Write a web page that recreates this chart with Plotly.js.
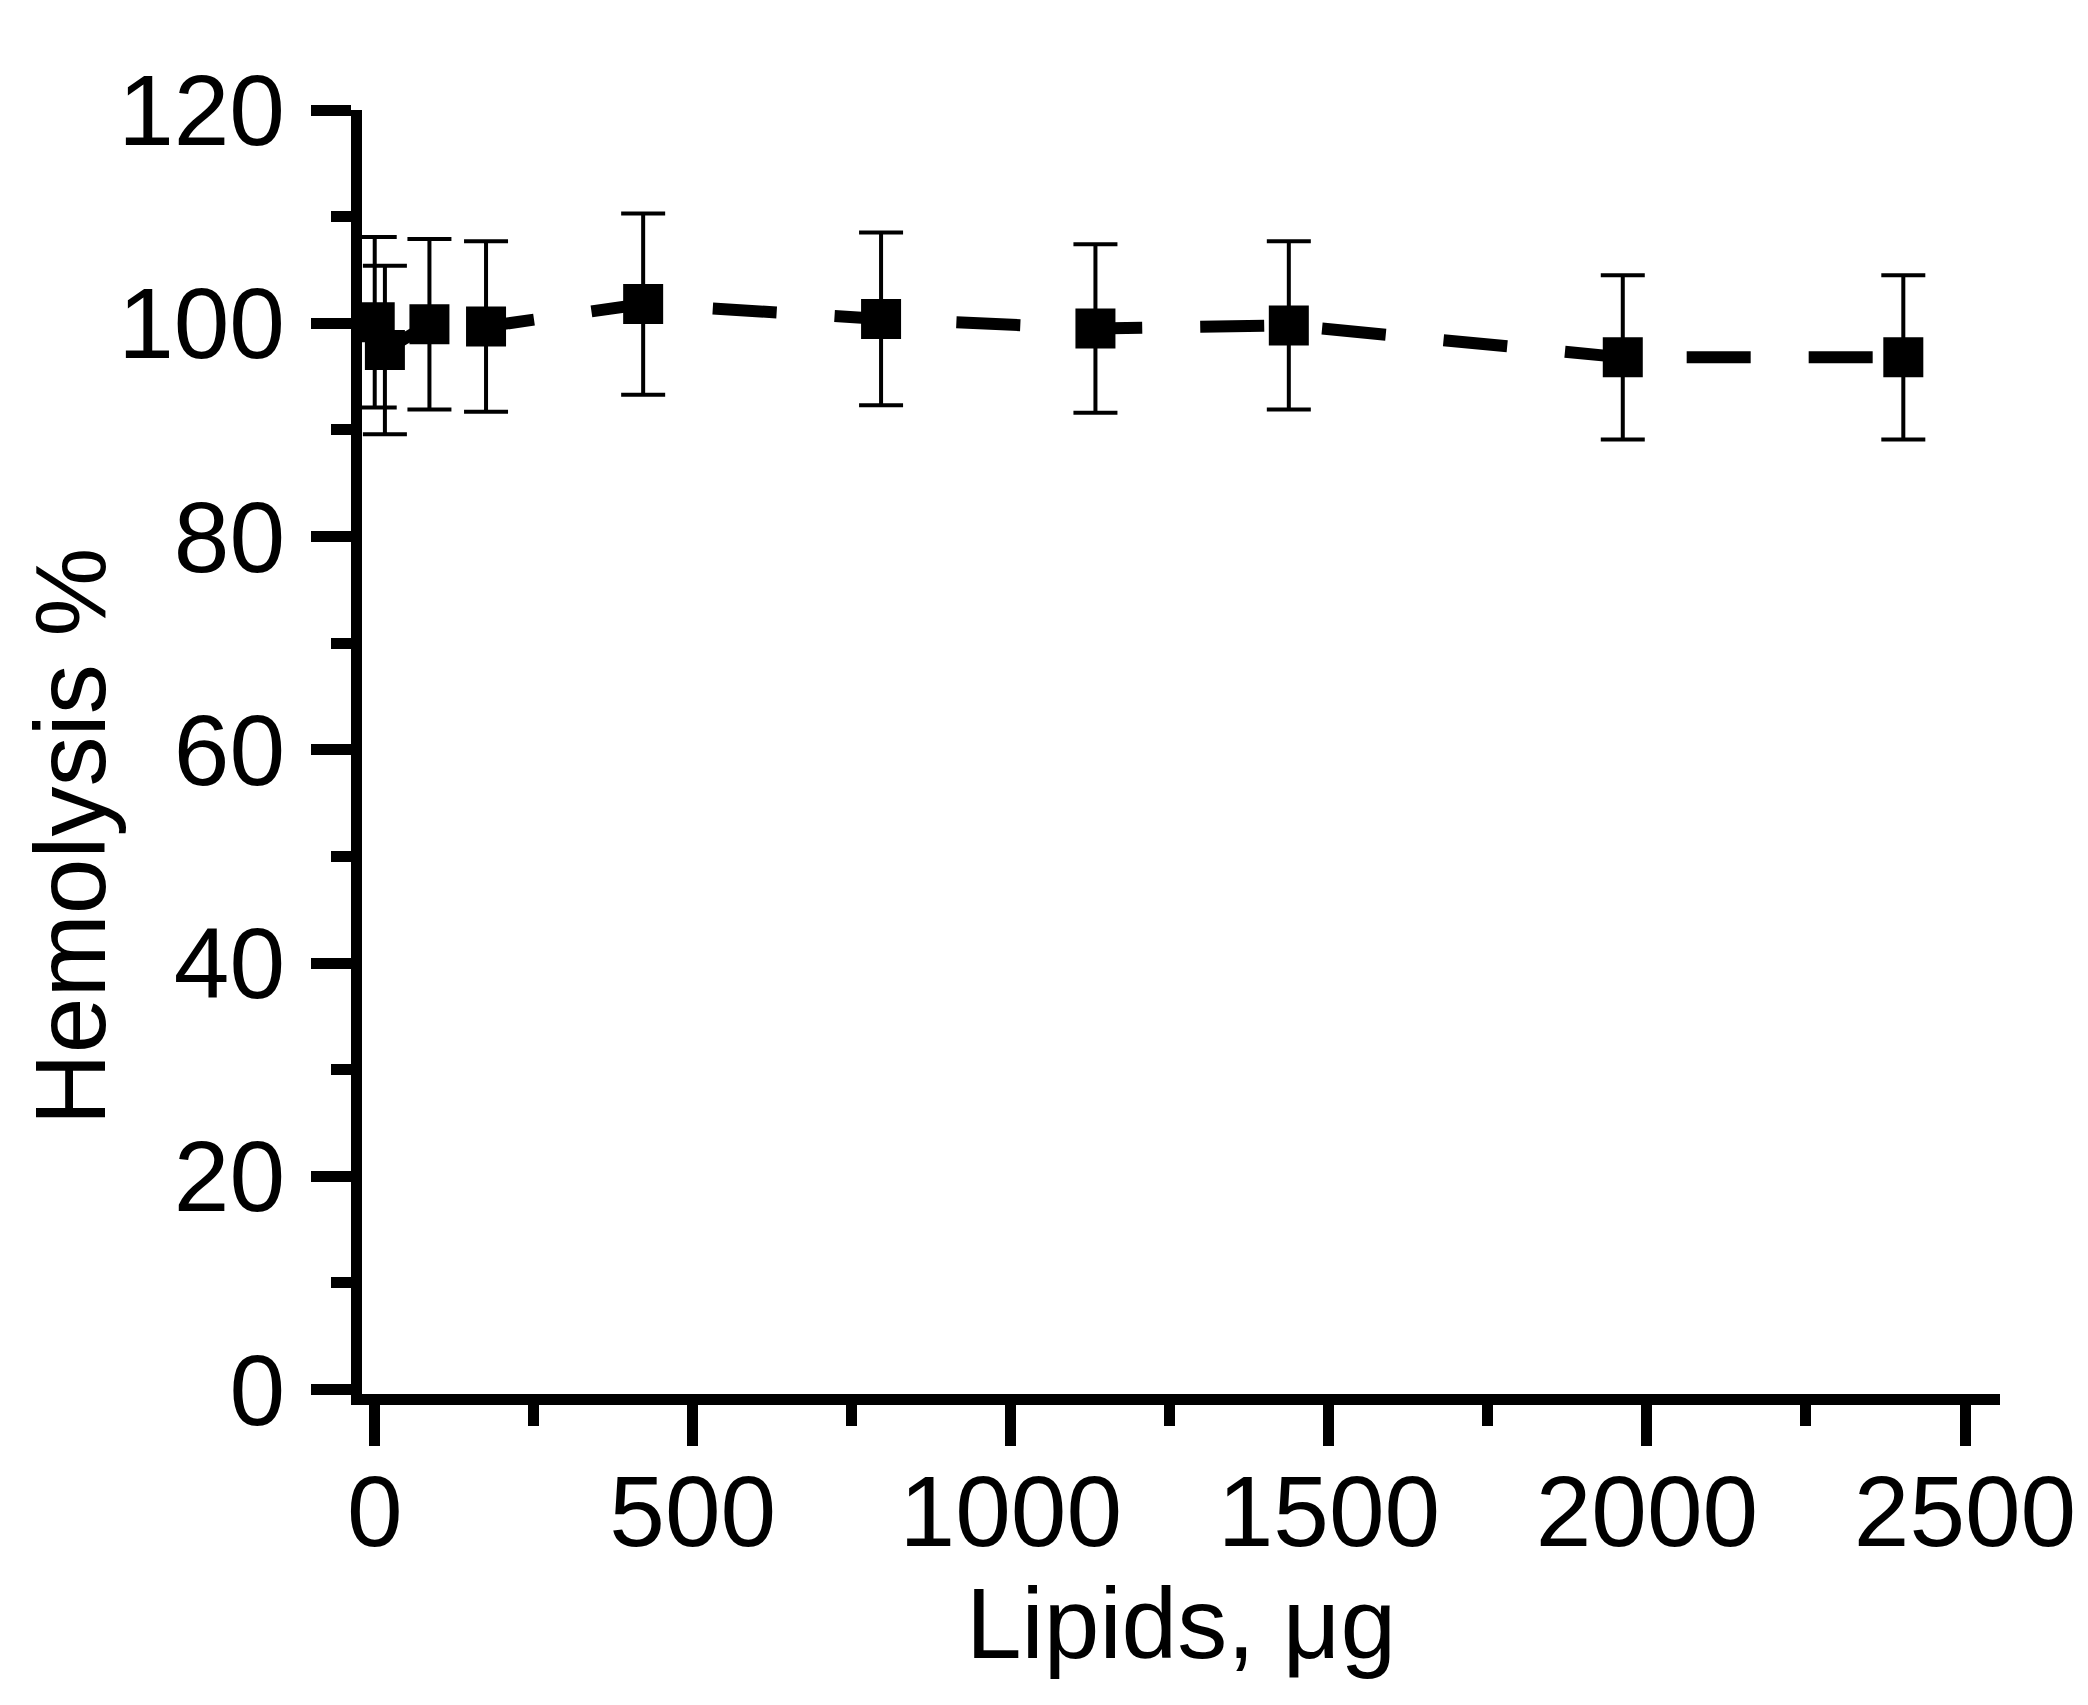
<!DOCTYPE html>
<html>
<head>
<meta charset="utf-8">
<script src="https://cdn.plot.ly/plotly-3.0.1.min.js"></script>
<style>
  html, body { margin: 0; padding: 0; background: #fff; }
  #myPlot { width: 2088px; height: 1705px; }
</style>
</head>
<body>
<div id="myPlot"></div>
<script>
// values
let lipids = [0, 16, 86, 175, 422, 796, 1133, 1437, 1962, 2403];
let hemolysis = [100.1, 97.5, 99.9, 99.7, 101.8, 100.4, 99.5, 99.8, 96.8, 96.8];
let errors = [8.0, 7.9, 8.0, 8.0, 8.5, 8.1, 7.9, 7.9, 7.7, 7.7];

let yTicks = [0, 20, 40, 60, 80, 100, 120];
let xTicks = [0, 500, 1000, 1500, 2000, 2500];

let font = 'Liberation Sans, Arial, sans-serif';

let data = [
    {
        x: lipids,
        y: hemolysis,
        mode: 'lines+markers',
        line: {color: '#000', width: 12, dash: '64px,58px'},
        marker: {symbol: 'square', size: 40, color: '#000'},
        error_y: {type: 'data', array: errors, visible: true, color: '#000', thickness: 4, width: 22},
        cliponaxis: false,
        showlegend: false
    }
];

let layout = {
    width: 2088,
    height: 1705,
    margin: {l: 362, r: 88, t: 110, b: 311},
    paper_bgcolor: '#fff',
    plot_bgcolor: '#fff',
    font: {family: font, color: '#000', size: 100},
    xaxis: {
        range: [-20, 2555],
        tickvals: xTicks,
        ticks: 'outside',
        ticklen: 41,
        tickwidth: 11,
        tickcolor: '#000',
        showline: true,
        linewidth: 11,
        linecolor: '#000',
        showgrid: false,
        zeroline: false,
        ticklabelstandoff: -20,
        tickfont: {family: font, size: 100},
        minor: {dtick: 250, ticks: 'outside', ticklen: 21, tickwidth: 11, tickcolor: '#000', showgrid: false},
        title: {text: 'Lipids, μg', font: {family: font, size: 100}, standoff: 10}
    },
    yaxis: {
        range: [-0.42, 120],
        tickvals: yTicks,
        ticks: 'outside',
        ticklen: 40,
        tickwidth: 11,
        tickcolor: '#000',
        showline: true,
        linewidth: 11,
        linecolor: '#000',
        showgrid: false,
        zeroline: false,
        ticklabelstandoff: 6,
        tickfont: {family: font, size: 100},
        minor: {dtick: 10, ticks: 'outside', ticklen: 20, tickwidth: 11, tickcolor: '#000', showgrid: false}
    },
    annotations: [
        {
            text: 'Hemolysis %',
            textangle: -90,
            xref: 'paper', yref: 'paper',
            x: -0.178, y: 0.4346,
            xanchor: 'center', yanchor: 'middle',
            showarrow: false,
            font: {family: font, size: 100, color: '#000'}
        }
    ]
};

Plotly.newPlot('myPlot', data, layout, {staticPlot: true});
</script>
</body>
</html>
